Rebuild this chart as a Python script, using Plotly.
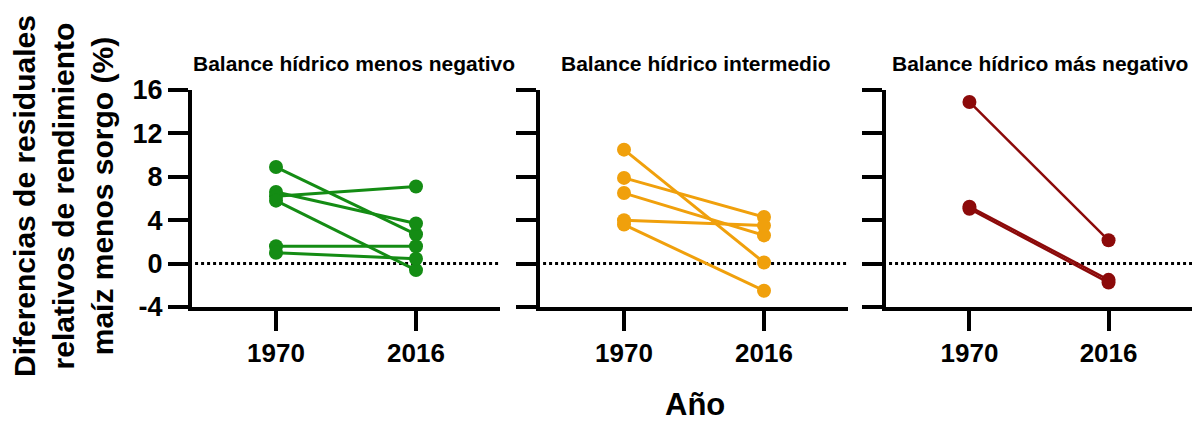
import plotly.graph_objects as go

W, H = 1192, 421

years = ["1970", "2016"]
panel_titles = ["Balance hídrico menos negativo", "Balance hídrico intermedio", "Balance hídrico más negativo"]
colors = ["#148C14", "#F0A00C", "#8C0A0A"]

# each pair = (value 1970, value 2016)
menos_negativo = [(8.9, 2.7), (6.6, 3.7), (6.2, 7.1), (5.8, -0.6), (1.6, 1.6), (1.0, 0.45)]
intermedio = [(10.5, 0.1), (7.9, 4.3), (6.5, 2.6), (4.0, 3.5), (3.6, -2.5)]
mas_negativo = [(14.9, 2.15), (5.25, -1.5), (5.05, -1.75)]
panels = [menos_negativo, intermedio, mas_negativo]

y_ticks = [-4, 0, 4, 8, 12, 16]
y_title = "Diferencias de residuales<br>relativos de rendimiento<br>maíz menos sorgo (%)"
x_title = "Año"

FONT = "Liberation Sans, Arial, sans-serif"

# pixel layout
x_px = [(192, 500), (540, 848), (886, 1192)]
title_cx = [354, 696, 1040]
y_top, y_bot = 90, 307

fig = go.Figure()
for i, (data, col) in enumerate(zip(panels, colors)):
    ax = "" if i == 0 else str(i + 1)
    for a, b in data:
        fig.add_trace(go.Scatter(
            x=[0, 1], y=[a, b], mode="lines+markers",
            line=dict(color=col, width=3 if i < 2 else 2.5),
            marker=dict(color=col, size=14),
            xaxis="x" + ax, yaxis="y" + ax, showlegend=False, hoverinfo="skip"))
    x0, x1 = x_px[i]
    fig.layout["xaxis" + ax] = dict(
        domain=[x0 / W, x1 / W], range=[-0.6, 1.6], anchor="y" + ax,
        tickvals=[0, 1], ticktext=years, showgrid=False, zeroline=False,
        showline=True, linewidth=4, linecolor="black", automargin=False,
        ticks="outside", ticklen=20, tickwidth=4, tickcolor="black",
        tickfont=dict(family=FONT, size=26, color="black", weight="bold"),
        fixedrange=True)
    fig.layout["yaxis" + ax] = dict(
        domain=[1 - y_bot / H, 1 - y_top / H], range=[-4, 16], anchor="x" + ax,
        tickvals=y_ticks, ticktext=[str(v) for v in y_ticks],
        showticklabels=(i == 0), automargin=False,
        showgrid=False, zeroline=False,
        showline=True, linewidth=4, linecolor="black",
        ticks="outside", ticklen=20, tickwidth=4, tickcolor="black",
        tickfont=dict(family=FONT, size=27, color="black", weight="bold"),
        fixedrange=True)
    fig.add_shape(type="line", xref="x" + ax + " domain", yref="y" + ax,
                  x0=0.01, x1=1, y0=0, y1=0,
                  line=dict(color="black", width=3, dash="dot"), layer="below")
    fig.add_annotation(text=panel_titles[i], xref="paper", yref="paper",
                       x=title_cx[i] / W, y=1 - 63 / H,
                       showarrow=False, xanchor="center", yanchor="middle",
                       font=dict(family=FONT, size=21, color="black", weight="bold"))

fig.add_annotation(text=x_title, xref="paper", yref="paper", x=695 / W, y=1 - 404 / H,
                   showarrow=False, xanchor="center", yanchor="middle",
                   font=dict(family=FONT, size=31, color="black", weight="bold"))
fig.add_annotation(text=y_title, xref="paper", yref="paper", x=63 / W, y=1 - 196 / H,
                   showarrow=False, textangle=-90, xanchor="center", yanchor="middle",
                   font=dict(family=FONT, size=30, color="black", weight="bold"))

fig.update_layout(width=W, height=H, margin=dict(l=0, r=0, t=0, b=0),
                  plot_bgcolor="white", paper_bgcolor="white")
fig.write_html("out.html", config={"displayModeBar": False},
               post_script="document.body.style.margin='0';document.body.style.overflow='hidden';")
